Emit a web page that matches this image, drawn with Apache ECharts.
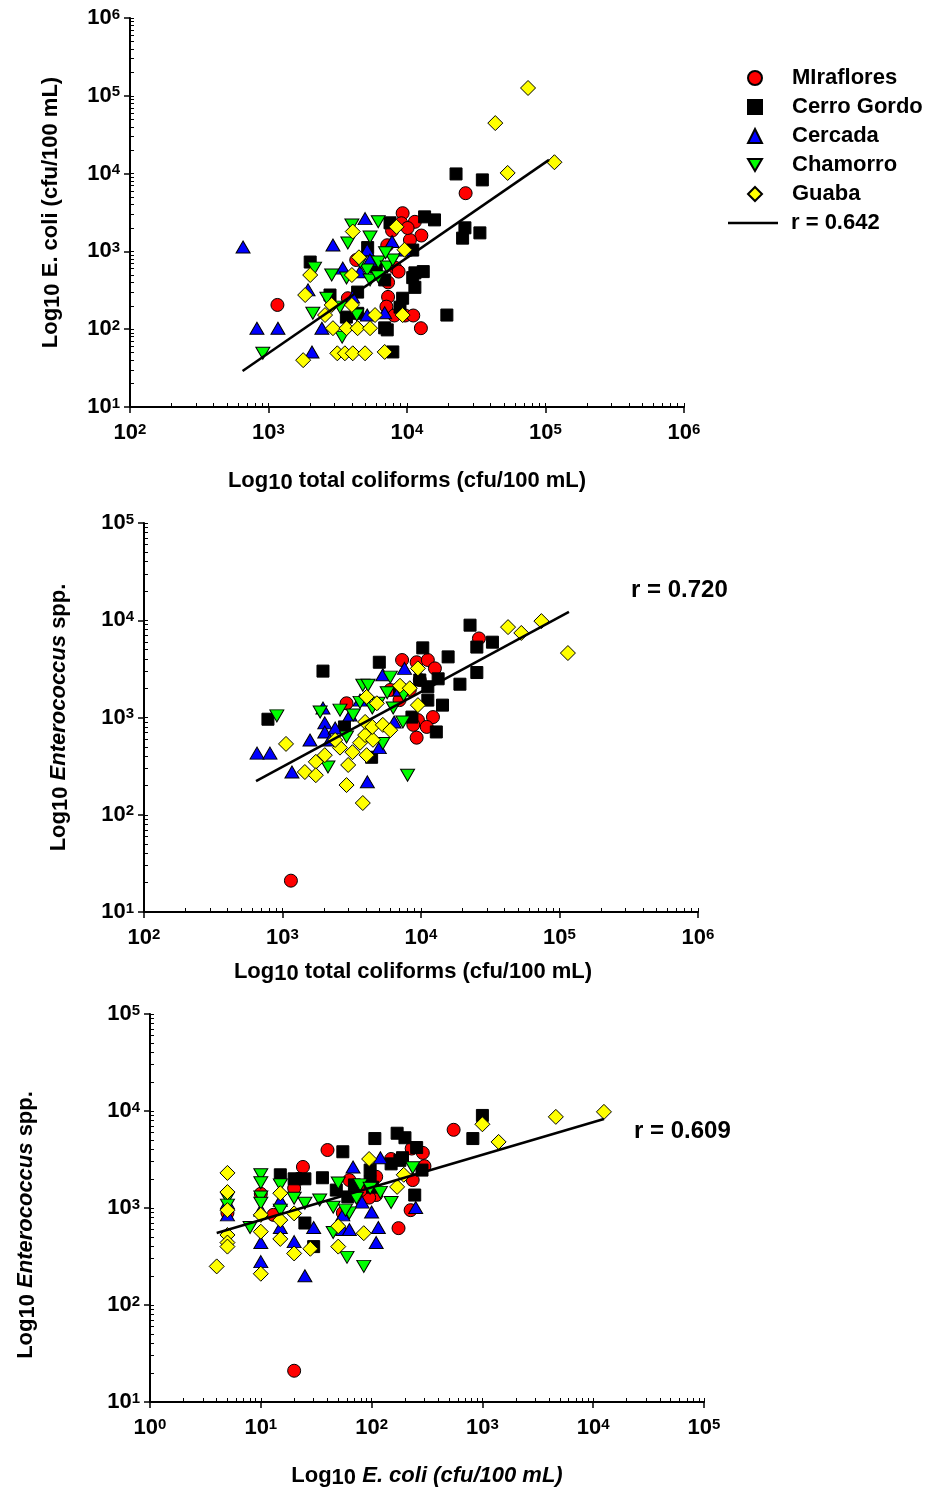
<!DOCTYPE html>
<html>
<head>
<meta charset="utf-8">
<script src="https://cdn.jsdelivr.net/npm/echarts@6/dist/echarts.min.js"></script>
<style>
  html, body { margin: 0; padding: 0; background: #fff; }
  #chart { width: 927px; height: 1495px; }
</style>
</head>
<body>
<div id="chart"></div>
<script>
// ---- Panel 1: total coliforms (x) vs E. coli (y), cfu/100 mL ----
const miraflores1 = [[1160,205],[26500,5600],[9300,3100],[9100,2300],[11400,2400],[12700,1600],[10500,1400],[7200,1200],[4300,775],[8200,620],[8700,550],[7300,400],[7300,260],[7100,195],[8100,150],[9700,150],[11100,150],[12600,103],[3740,250],[10100,2000],[7800,1850]];
const cerro1 = [[22600,9900],[35000,8300],[13400,2780],[15800,2540],[26200,2010],[25200,1480],[33600,1730],[11000,1040],[13100,550],[11000,460],[11400,345],[9300,250],[8900,192],[19400,152],[7200,98],[2000,730],[7540,2330],[5200,1120],[11400,530],[4400,300],[2780,275],[3650,143],[4400,160],[6900,104],[7900,51],[6000,630],[6900,430]];
const cercada1 = [[655,1140],[825,103],[1170,103],[2920,1210],[4980,2640],[7800,1340],[5160,1040],[3440,610],[2430,103],[2060,51],[4050,260],[6900,163],[1930,320],[5160,152],[4580,545],[5400,775],[9600,1040]];
const chamorro1 = [[910,49],[6200,2400],[4000,2180],[3740,1280],[5410,1530],[2150,610],[2860,497],[3660,455],[5160,577],[6200,730],[7200,630],[7900,775],[5410,430],[6200,470],[2640,250],[3280,192],[2090,160],[4340,152],[3400,79],[4600,730],[7000,960]];
const guaba1 = [[74800,126000],[43400,44600],[116000,14000],[53300,10200],[4060,1800],[8400,2070],[9600,1050],[4500,840],[4000,497],[2000,497],[1840,275],[2860,205],[4000,205],[2560,152],[5880,152],[9300,152],[2920,103],[3660,103],[4400,103],[5410,103],[3140,49],[3560,49],[4060,49],[4980,49],[6900,51],[1780,40]];
const fit1 = [[650,29],[106000,15000]];

// ---- Panel 2: total coliforms (x) vs Enterococcus spp. (y) ----
const miraflores2 = [[1150,21],[26200,6500],[7300,3900],[9300,3700],[11200,3900],[12600,3200],[12200,1010],[9500,940],[8800,840],[11000,800],[9300,620],[2900,1400],[6000,1920],[8300,1920],[9800,2430],[7000,1510]];
const cerro2 = [[1960,3000],[785,960],[5000,3700],[10300,5200],[22600,8900],[25300,5300],[32800,5950],[15700,4200],[25300,2900],[19100,2200],[13300,2500],[11200,2070],[11200,1510],[14300,1340],[12900,710],[8600,1010],[4400,390],[2800,800],[9800,2430],[7000,1920]];
const cercada2 = [[655,430],[812,430],[1170,275],[1960,1250],[2020,880],[2020,710],[2200,587],[2400,780],[5300,2750],[7600,3200],[4100,218],[5000,490],[3070,1060],[1580,587],[3630,1510],[7000,1920],[6400,900]];
const chamorro2 = [[910,1040],[3800,2150],[4150,2150],[6000,2600],[2600,1190],[3240,1060],[3630,1430],[4450,1250],[5700,1800],[4900,1400],[6300,1250],[7500,1700],[7400,900],[2900,630],[2130,310],[8000,255],[5300,540],[1870,1140]];
const guaba2 = [[1060,535],[1450,275],[1740,350],[1740,255],[2020,410],[2600,490],[3200,440],[2980,325],[2900,202],[3800,132],[4050,410],[3630,550],[3950,660],[3950,900],[4500,590],[4450,800],[5300,840],[6000,740],[4800,1400],[4050,1630],[7050,2120],[8300,2000],[9500,3200],[9500,1340],[42500,8500],[53000,7400],[74000,9800],[115000,4600],[2400,587]];
const fit2 = [[644,222],[117000,12200]];

// ---- Panel 3: E. coli (x) vs Enterococcus spp. (y) ----
const miraflores3 = [[20,21],[40,3960],[550,6400],[230,4100],[290,3700],[300,2700],[24,2650],[22,2000],[10,1400],[5,890],[13,850],[63,1940],[110,2100],[55,890],[175,620],[110,1360],[225,950],[95,1280],[150,3200],[235,1940],[20,1600],[80,1530]];
const cerro3 = [[1000,9000],[820,5200],[107,5200],[170,5900],[200,5300],[255,4200],[190,3300],[150,2850],[97,2460],[97,1860],[285,2460],[245,1360],[102,1640],[55,3800],[15,2200],[20,2000],[25,2000],[36,2050],[48,1530],[61,1300],[25,700],[30,400],[180,3100],[70,1730]];
const cercada3 = [[5,1130],[5,850],[10,440],[10,280],[15,630],[20,450],[25,200],[30,630],[55,850],[55,600],[63,600],[68,2650],[100,910],[115,630],[110,440],[120,3300],[82,1150],[250,1010],[15,1200],[10,950]];
const chamorro3 = [[5,1260],[5,1070],[10,2200],[10,1820],[10,1300],[10,1120],[8,630],[15,1730],[15,950],[20,1260],[25,1120],[50,1810],[45,1020],[45,560],[60,310],[85,250],[79,1730],[73,1260],[97,1600],[120,1450],[150,1140],[63,890],[235,2600],[34,1210],[58,950]];
const guaba3 = [[5,2300],[5,1460],[5,950],[5,527],[5,440],[5,400],[4,250],[10,850],[10,570],[10,210],[15,1420],[15,750],[15,480],[20,880],[20,340],[28,380],[50,650],[50,400],[85,550],[95,3200],[170,1650],[195,2200],[1000,7300],[1400,4800],[4600,8700],[12500,9800]];
const fit3 = [[4,552],[12500,8280]];

// ---- Axis decades (tick exponents) and labels ----
const tcDecades = [2, 3, 4, 5, 6];
const ecDecades = [1, 2, 3, 4, 5, 6];
const entDecades = [1, 2, 3, 4, 5];
const ecDecades3 = [0, 1, 2, 3, 4, 5];
const siteNames = ['MIraflores', 'Cerro Gordo', 'Cercada', 'Chamorro', 'Guaba'];
const rLabels = ['r = 0.642', 'r = 0.720', 'r = 0.609'];

const FONT = '"Liberation Sans", Arial, Helvetica, sans-serif';

function majors(exps) { return exps.map(e => Math.pow(10, e)); }
function minors(exps) {
  const out = [];
  for (let i = 0; i < exps.length - 1; i++) {
    const base = Math.pow(10, exps[i]);
    for (let m = 1; m < 10; m++) out.push(m * base);
  }
  out.push(Math.pow(10, exps[exps.length - 1]));
  return out;
}
const tickFmt = v => '{b|10}{s|' + Math.round(Math.log10(v)) + '}';
const tickRich = {
  b: { fontFamily: FONT, fontSize: 22, fontWeight: 'bold', color: '#000', lineHeight: 22, padding: [5, 0, 0, 0], verticalAlign: 'bottom' },
  s: { fontFamily: FONT, fontSize: 15, fontWeight: 'bold', color: '#000', lineHeight: 15, verticalAlign: 'top' }
};
const nameRich = {
  a: { fontFamily: FONT, fontSize: 22, fontWeight: 'bold', color: '#000', lineHeight: 24, verticalAlign: 'top' },
  i: { fontFamily: FONT, fontSize: 22, fontWeight: 'bold', fontStyle: 'italic', color: '#000', lineHeight: 24, verticalAlign: 'top' },
  sub: { fontFamily: FONT, fontSize: 22, fontWeight: 'bold', color: '#000', lineHeight: 24, padding: [8, 0, 0, 0], verticalAlign: 'bottom' }
};

function mainAxis(gi, exps, pos, name, nameGap, namePad) {
  return {
    type: 'log', logBase: 10, gridIndex: gi, position: pos,
    min: Math.pow(10, exps[0]), max: Math.pow(10, exps[exps.length - 1]),
    axisLine: { show: true, onZero: false, lineStyle: { color: '#000', width: 2 } },
    axisTick: { show: true, inside: false, length: 6, lineStyle: { color: '#000', width: 1.5 }, customValues: majors(exps) },
    axisLabel: { show: true, customValues: majors(exps), formatter: tickFmt, rich: tickRich, margin: pos === 'bottom' ? 15 : 10 },
    splitLine: { show: false },
    name: name, nameLocation: 'middle', nameGap: nameGap,
    nameTextStyle: { rich: nameRich, padding: namePad || 0 }
  };
}
function minorAxis(gi, exps, pos) {
  return {
    type: 'log', logBase: 10, gridIndex: gi, position: pos,
    min: Math.pow(10, exps[0]), max: Math.pow(10, exps[exps.length - 1]),
    axisLine: { show: false, onZero: false },
    axisTick: { show: true, inside: true, length: 4, lineStyle: { color: '#000', width: 1 }, customValues: minors(exps) },
    axisLabel: { show: false },
    splitLine: { show: false }
  };
}

const siteStyles = [
  { symbol: 'circle', size: 13, color: '#FF0000', rotate: 0 },
  { symbol: 'rect', size: 12, color: '#000000', rotate: 0 },
  { symbol: 'triangle', size: [14, 12], color: '#0000FF', rotate: 0 },
  { symbol: 'triangle', size: [14, 12], color: '#00FF00', rotate: 180 },
  { symbol: 'diamond', size: [15, 15], color: '#FFFF00', rotate: 0 }
];
const panels = [
  [miraflores1, cerro1, cercada1, chamorro1, guaba1],
  [miraflores2, cerro2, cercada2, chamorro2, guaba2],
  [miraflores3, cerro3, cercada3, chamorro3, guaba3]
];
const fits = [fit1, fit2, fit3];

const series = [];
panels.forEach((sets, gi) => {
  sets.forEach((data, si) => {
    const st = siteStyles[si];
    series.push({
      type: 'scatter', name: siteNames[si], data: data,
      xAxisIndex: 2 * gi, yAxisIndex: 2 * gi,
      symbol: st.symbol, symbolSize: st.size, symbolRotate: st.rotate,
      itemStyle: { color: st.color, borderColor: '#000', borderWidth: 1, opacity: 1 },
      emphasis: { disabled: true }, z: 2
    });
  });
  series.push({
    type: 'line', name: rLabels[gi], data: fits[gi],
    xAxisIndex: 2 * gi, yAxisIndex: 2 * gi,
    symbol: 'none', showSymbol: false,
    itemStyle: { color: '#000' },
    lineStyle: { color: '#000', width: 2.5 },
    emphasis: { disabled: true }, silent: true, z: 5
  });
});

const legendText = { fontFamily: FONT, fontSize: 22, fontWeight: 'bold', color: '#000', lineHeight: 20 };
const legendItems = siteNames.map(n => n === 'Chamorro'
  ? { name: n, icon: 'path://M0,0L14,0L7,12Z' }
  : { name: n });

const option = {
  animation: false,
  backgroundColor: '#fff',
  grid: [
    { left: 130, right: 243, top: 18, height: 389, containLabel: false, outerBoundsMode: 'none' },
    { left: 144, right: 229, top: 523, height: 389, containLabel: false, outerBoundsMode: 'none' },
    { left: 150, right: 223, top: 1014, height: 388, containLabel: false, outerBoundsMode: 'none' }
  ],
  xAxis: [
    mainAxis(0, tcDecades, 'bottom', '{a|Log}{sub|10}{a| total coliforms (cfu/100 mL)}', 63),
    minorAxis(0, tcDecades, 'bottom'),
    mainAxis(1, tcDecades, 'bottom', '{a|Log}{sub|10}{a| total coliforms (cfu/100 mL)}', 49, [0, 16, 0, 0]),
    minorAxis(1, tcDecades, 'bottom'),
    mainAxis(2, ecDecades3, 'bottom', '{a|Log}{sub|10}{i| E. coli (cfu/100 mL)}', 63),
    minorAxis(2, ecDecades3, 'bottom')
  ],
  yAxis: [
    mainAxis(0, ecDecades, 'left', '{a|Log}{sub|10}{a| E. coli (cfu/100 mL)}', 66),
    minorAxis(0, ecDecades, 'left'),
    mainAxis(1, entDecades, 'left', '{a|Log}{sub|10}{a| }{i|Enterococcus}{a| spp.}', 72),
    minorAxis(1, entDecades, 'left'),
    mainAxis(2, entDecades, 'left', '{a|Log}{sub|10}{a| }{i|Enterococcus}{a| spp.}', 111, [0, 34, 0, 0]),
    minorAxis(2, entDecades, 'left')
  ],
  legend: [
    {
      data: legendItems, orient: 'vertical', left: 747, top: 67, padding: 0,
      itemWidth: 14, itemHeight: 14, itemGap: 7, selectedMode: false,
      textStyle: Object.assign({ padding: [0, 0, 0, 25] }, legendText)
    },
    {
      data: [{ name: rLabels[0], icon: 'rect' }], orient: 'vertical', left: 728, top: 212, padding: 0,
      itemWidth: 50, itemHeight: 2.5, selectedMode: false,
      itemStyle: { color: '#000', borderWidth: 0 },
      textStyle: Object.assign({ padding: [0, 0, 0, 8] }, legendText)
    }
  ],
  title: [
    { text: rLabels[1], left: 631, top: 578, padding: 0, textStyle: { fontFamily: FONT, fontSize: 24, fontWeight: 'bold', color: '#000' } },
    { text: rLabels[2], left: 634, top: 1119, padding: 0, textStyle: { fontFamily: FONT, fontSize: 24, fontWeight: 'bold', color: '#000' } }
  ],
  series: series
};

const chart = echarts.init(document.getElementById('chart'), null, { renderer: 'canvas' });
chart.setOption(option);
</script>
</body>
</html>
